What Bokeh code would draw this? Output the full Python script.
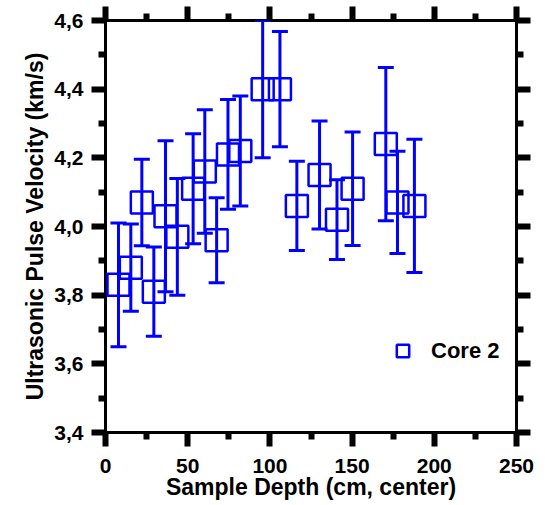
from bokeh.plotting import figure
from bokeh.models import (ColumnDataSource, Whisker, TeeHead, LinearAxis, FixedTicker,
                          CustomJSTickFormatter, Range1d, Legend, LegendItem)
from bokeh.embed import file_html
from bokeh.resources import INLINE

# ---- data ----
depth = [7.9, 15.4, 22.1, 29.4, 36.5, 43.7, 53.3, 60.4, 67.6, 74.5, 82.0,
         95.6, 106.1, 116.4, 130.2, 140.8, 150.3, 170.5, 177.6, 187.9]
velocity = [3.83, 3.88, 4.07, 3.81, 4.03, 3.97, 4.11, 4.16, 3.96, 4.21, 4.22,
            4.40, 4.40, 4.06, 4.15, 4.02, 4.11, 4.24, 4.07, 4.06]
error = [0.18, 0.127, 0.126, 0.13, 0.22, 0.17, 0.16, 0.18, 0.124, 0.16, 0.16,
         0.20, 0.168, 0.13, 0.157, 0.116, 0.165, 0.223, 0.149, 0.194]
x_ticks = [0, 50, 100, 150, 200, 250]
x_minor = [25, 75, 125, 175, 225]
y_ticks = [3.4, 3.6, 3.8, 4.0, 4.2, 4.4, 4.6]
y_minor = [3.5, 3.7, 3.9, 4.1, 4.3, 4.5]
series_name = "Core 2"
x_label = "Sample Depth (cm, center)"
y_label = "Ultrasonic Pulse Velocity (km/s)"

BLUE = "#0000FF"
FONT = "Liberation Sans"

src = ColumnDataSource(dict(
    x=depth, y=velocity,
    upper=[v + e for v, e in zip(velocity, error)],
    lower=[v - e for v, e in zip(velocity, error)],
))

p = figure(width=540, height=505, output_backend="svg", toolbar_location=None,
           x_range=Range1d(0, 250), y_range=Range1d(3.4, 4.6),
           min_border_left=105, min_border_right=24, min_border_top=20, min_border_bottom=73,
           x_axis_location=None, y_axis_location=None)
p.outline_line_color = "black"
p.outline_line_width = 3
p.xgrid.visible = False
p.ygrid.visible = False
p.background_fill_color = "white"

empty = CustomJSTickFormatter(code="return '';")
yfmt = CustomJSTickFormatter(code="return tick.toFixed(1).replace('.', ',');")
xfmt = CustomJSTickFormatter(code="return tick.toFixed(0);")

AX = dict(axis_line_color=None,
          major_tick_line_width=6, minor_tick_line_width=6,
          major_tick_line_color="black", minor_tick_line_color="black",
          major_tick_line_cap="butt", minor_tick_line_cap="butt",
          major_tick_out=14, major_tick_in=0, minor_tick_out=7, minor_tick_in=0,
          major_label_text_font=FONT, major_label_text_font_style="bold",
          major_label_text_font_size="21px", major_label_text_color="black",
          axis_label_text_font=FONT, axis_label_text_font_style="bold",
          axis_label_text_font_size="23px", axis_label_text_color="black")

bottom = LinearAxis(ticker=FixedTicker(ticks=x_ticks, minor_ticks=x_minor),
                    formatter=xfmt, axis_label=x_label,
                    major_label_standoff=12, axis_label_standoff=-2, **AX)
p.add_layout(bottom, "below")

left = LinearAxis(ticker=FixedTicker(ticks=y_ticks, minor_ticks=y_minor),
                  formatter=yfmt, axis_label=y_label,
                  major_label_standoff=8, axis_label_standoff=3, **AX)
p.add_layout(left, "left")

AX_EMPTY = dict(AX, major_label_text_font_size="0px")
top = LinearAxis(ticker=FixedTicker(ticks=x_ticks, minor_ticks=x_minor), formatter=empty,
                 major_label_standoff=0, **AX_EMPTY)
p.add_layout(top, "above")

right = LinearAxis(ticker=FixedTicker(ticks=y_ticks, minor_ticks=y_minor), formatter=empty,
                   major_label_standoff=0, **AX_EMPTY)
p.add_layout(right, "right")

wh = Whisker(base="x", upper="upper", lower="lower", source=src,
             line_color=BLUE, line_width=3,
             upper_head=TeeHead(size=16, line_color=BLUE, line_width=3),
             lower_head=TeeHead(size=16, line_color=BLUE, line_width=3))
p.add_layout(wh)

r = p.scatter("x", "y", source=src, marker="square", size=22,
              line_color=BLUE, line_width=2.5, fill_alpha=0)

legend = Legend(items=[LegendItem(label=series_name, renderers=[r])],
                location=(282, 66), orientation="vertical")
legend.glyph_width = 31
legend.glyph_height = 31
legend.padding = 0
legend.margin = 0
legend.spacing = 0
legend.label_standoff = 13
legend.border_line_color = None
legend.background_fill_alpha = 0
legend.label_text_font = FONT
legend.label_text_font_style = "bold"
legend.label_text_font_size = "22px"
legend.label_text_color = "black"
p.add_layout(legend, "center")

open("out.html", "w").write(file_html(p, INLINE))
